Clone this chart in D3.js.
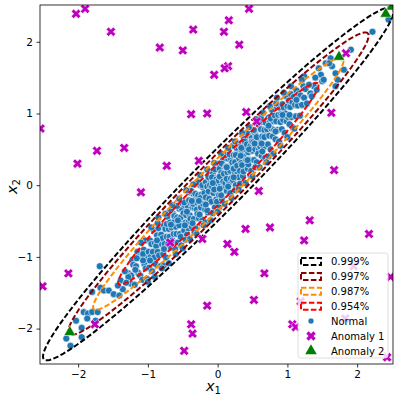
<!DOCTYPE html>
<html>
<head>
<meta charset="utf-8">
<script src="https://cdn.jsdelivr.net/npm/d3@7"></script>
<style>
  html, body { margin: 0; padding: 0; background: #fff; }
  svg { display: block; font-family: "DejaVu Sans", sans-serif; }
</style>
</head>
<body>
<svg id="chart" width="399" height="399"></svg>
<script>
// axis limits and ticks
const xLimits = [-2.547, 2.514];
const yLimits = [-2.494, 2.513];
const xTicks = [-2, -1, 0, 1, 2];
const yTicks = [-2, -1, 0, 1, 2];

// confidence ellipses (Mahalanobis radius)
const levelLabels = ["0.999%", "0.997%", "0.987%", "0.954%"];
const levelRadii = [3.5, 3, 2.5, 2];
const levelColors = ["black", "darkred", "darkorange", "red"];
const ellipseCenter = [0.01, 0.02];
const ellipseSigma = [1.0, 0.105];
const ellipseAngle = 44.4; // degrees

// normal samples
const normal = [
  [-1.28,-1.23],[-1.25,-1.37],[-1.22,-1.04],[-1.24,-1.26],[-1.21,-1.11],
  [-1.19,-1.39],[-1.17,-1.13],[-1.15,-0.93],[-1.14,-1.22],[-1.12,-1.00],[-1.11,-1.26],[-1.18,-1.18],
  [-1.09,-1.01],[-1.08,-1.32],[-1.06,-0.90],[-1.05,-1.10],[-1.04,-0.77],[-1.03,-1.16],[-1.02,-1.00],[-1.01,-1.31],[-1.07,-0.96],
  [-0.99,-0.93],[-0.98,-1.15],[-0.97,-0.77],[-0.96,-1.00],[-0.95,-0.82],[-0.94,-1.20],[-0.93,-0.93],[-0.92,-0.62],[-0.91,-1.01],[-0.90,-0.81],
  [-0.89,-1.10],[-0.88,-0.85],[-0.87,-0.70],[-0.86,-0.93],[-0.85,-0.60],[-0.84,-0.98],[-0.83,-0.75],[-0.82,-1.13],[-0.81,-0.69],[-0.80,-0.82],[-0.86,-0.53],
  [-0.79,-0.74],[-0.78,-0.96],[-0.77,-0.56],[-0.76,-0.82],[-0.75,-0.61],[-0.74,-1.01],[-0.73,-0.72],[-0.72,-0.44],[-0.71,-0.82],[-0.70,-0.61],[-0.77,-1.12],[-0.73,-0.54],
  [-0.69,-0.72],[-0.68,-0.52],[-0.67,-0.87],[-0.66,-0.59],[-0.65,-0.77],[-0.64,-0.40],[-0.63,-0.68],[-0.62,-0.51],[-0.61,-0.89],[-0.60,-0.58],[-0.68,-0.36],[-0.64,-0.80],[-0.62,-0.43],
  [-0.59,-0.68],[-0.58,-0.45],[-0.57,-0.80],[-0.56,-0.52],[-0.55,-0.33],[-0.54,-0.68],[-0.53,-0.45],[-0.52,-0.84],[-0.51,-0.34],[-0.50,-0.54],[-0.58,-0.29],[-0.55,-0.56],[-0.53,-0.72],[-0.51,-0.25],
  [-0.49,-0.39],[-0.48,-0.63],[-0.47,-0.28],[-0.46,-0.52],[-0.45,-0.42],[-0.44,-0.69],[-0.43,-0.29],[-0.42,-0.52],[-0.41,-0.10],[-0.40,-0.42],[-0.48,-0.24],[-0.46,-0.76],[-0.44,-0.37],[-0.42,-0.60],[-0.41,-0.21],
  [-0.39,-0.47],[-0.38,-0.26],[-0.37,-0.58],[-0.36,-0.31],[-0.35,-0.12],[-0.34,-0.47],[-0.33,-0.32],[-0.32,-0.60],[-0.31,-0.15],[-0.30,-0.34],[-0.38,-0.08],[-0.36,-0.53],[-0.35,-0.26],[-0.33,-0.66],[-0.32,-0.12],[-0.30,-0.24],
  [-0.29,-0.40],[-0.28,-0.14],[-0.27,-0.46],[-0.26,-0.23],[-0.25,0.00],[-0.24,-0.31],[-0.23,-0.13],[-0.22,-0.48],[-0.21,-0.03],[-0.20,-0.21],[-0.28,0.04],[-0.26,-0.41],[-0.25,-0.18],[-0.23,-0.54],[-0.22,0.00],[-0.21,-0.26],
  [-0.19,-0.11],[-0.18,-0.34],[-0.17,0.04],[-0.16,-0.19],[-0.15,-0.02],[-0.14,-0.38],[-0.13,-0.09],[-0.12,0.17],[-0.11,-0.23],[-0.10,0.07],[-0.18,-0.52],[-0.17,-0.17],[-0.15,-0.35],[-0.13,0.11],[-0.12,-0.19],[-0.11,0.00],
  [-0.09,-0.23],[-0.08,-0.02],[-0.07,0.16],[-0.06,-0.11],[-0.05,0.10],[-0.04,-0.31],[-0.03,-0.01],[-0.02,-0.20],[-0.01,0.30],[0.00,-0.09],[-0.08,0.11],[-0.07,-0.39],[-0.05,-0.06],[-0.04,0.22],[-0.02,0.08],[-0.01,-0.23],
  [0.01,0.06],[0.02,-0.14],[0.03,0.23],[0.04,-0.02],[0.05,0.17],[0.06,-0.19],[0.07,0.08],[0.08,0.36],[0.09,-0.02],[0.10,0.26],[0.02,-0.31],[0.03,0.12],[0.05,-0.14],[0.06,0.30],[0.08,0.05],[0.09,0.16],
  [0.11,0.03],[0.12,0.26],[0.13,-0.08],[0.14,0.18],[0.15,0.37],[0.16,0.03],[0.17,0.26],[0.18,-0.11],[0.19,0.37],[0.20,0.18],[0.12,0.42],[0.13,0.09],[0.15,-0.02],[0.17,0.43],[0.18,0.20],[0.19,0.09],
  [0.21,0.32],[0.22,0.07],[0.23,0.42],[0.24,0.19],[0.25,0.32],[0.26,0.00],[0.27,0.52],[0.28,0.19],[0.29,0.43],[0.30,0.11],[0.22,0.55],[0.23,0.23],[0.25,-0.07],[0.26,0.42],[0.28,0.27],[0.29,0.58],
  [0.31,0.37],[0.32,0.20],[0.33,0.54],[0.34,0.31],[0.35,0.48],[0.36,0.13],[0.37,0.40],[0.38,0.65],[0.39,0.25],[0.40,0.50],[0.32,0.02],[0.34,0.52],[0.35,0.28],[0.37,0.19],[0.39,0.61],
  [0.41,0.35],[0.42,0.57],[0.43,0.23],[0.44,0.46],[0.45,0.69],[0.46,0.35],[0.47,0.55],[0.48,0.20],[0.49,0.66],[0.50,0.48],[0.42,0.73],[0.44,0.29],[0.45,0.50],[0.47,0.14],[0.49,0.61],
  [0.51,0.60],[0.52,0.35],[0.53,0.73],[0.54,0.50],[0.55,0.69],[0.56,0.32],[0.57,0.58],[0.58,0.86],[0.59,0.49],[0.60,0.66],[0.52,0.77],[0.54,0.25],[0.56,0.67],[0.58,0.44],
  [0.61,0.54],[0.62,0.78],[0.63,0.41],[0.64,0.68],[0.65,0.88],[0.66,0.53],[0.67,0.77],[0.68,0.38],[0.69,0.87],[0.70,0.69],[0.62,0.94],[0.64,0.47],[0.67,0.67],
  [0.71,0.78],[0.72,0.57],[0.73,0.94],[0.74,0.69],[0.75,0.88],[0.76,0.50],[0.77,0.79],[0.78,1.05],[0.79,0.68],[0.80,0.89],[0.73,0.40],[0.76,0.93],
  [0.81,0.77],[0.82,0.97],[0.83,0.64],[0.84,0.89],[0.85,1.09],[0.86,0.77],[0.87,0.98],[0.88,0.61],[0.89,1.08],[0.90,0.88],[0.84,1.14],
  [0.91,0.99],[0.92,0.78],[0.93,1.13],[0.94,0.91],[0.95,1.08],[0.96,0.73],[0.97,1.00],[0.98,1.24],[0.99,0.89],[1.00,1.10],
  [1.01,0.95],[1.02,1.18],[1.03,0.85],[1.04,1.09],[1.05,1.27],[1.06,0.95],[1.07,1.16],[1.08,0.80],[1.09,1.23],
  [1.11,1.12],[1.12,0.96],[1.13,1.32],[1.15,1.11],[1.16,1.27],[1.18,0.97],[1.19,1.25],
  [1.21,1.12],[1.23,1.38],[1.24,1.22],[1.26,1.34],[1.28,1.14],
  // wider spread around the band
  [-1.10,-0.80],[-1.00,-1.35],[-0.95,-0.59],[-0.90,-1.28],[-0.85,-0.45],[-0.80,-1.16],[-0.75,-0.40],[-0.70,-1.09],
  [-0.65,-0.28],[-0.60,-0.96],[-0.55,-0.19],[-0.50,-0.88],[-0.45,-0.07],[-0.40,-0.75],[-0.35,0.01],[-0.30,-0.68],
  [-0.25,0.14],[-0.20,-0.56],[-0.15,0.22],[-0.10,-0.49],[-0.05,0.31],[0.00,-0.37],[0.05,0.44],[0.10,-0.26],
  [0.15,0.52],[0.20,-0.18],[0.25,0.61],[0.30,-0.06],[0.35,0.73],[0.40,0.03],[0.45,0.81],[0.50,0.12],
  [0.55,0.92],[0.60,0.25],[0.65,1.01],[0.70,0.32],[0.75,1.10],[0.80,0.44],[0.85,1.22],[0.90,0.55],
  [0.95,1.29],[1.00,0.67],[1.05,1.38],[1.10,0.79],
  [-0.57,-0.49],[-0.47,-0.56],[-0.37,-0.22],[-0.27,-0.22],[-0.17,-0.27],[-0.07,0.03],[0.03,-0.05],[0.13,0.25],
  [0.23,0.11],[0.33,0.41],[0.43,0.35],[0.53,0.58],[0.63,0.58],[0.73,0.83],[0.83,0.75],[-0.67,-0.55],
  [-0.77,-0.89],[-0.87,-0.77],[-0.97,-1.05],[-1.07,-1.05],[0.93,0.98],[1.03,0.98],[1.13,1.19],[-1.16,-1.02],
  // tails
  [1.24,1.52],[1.21,1.47],[1.33,1.28],[1.38,1.38],[1.45,1.63],[1.48,1.54],[1.50,1.45],[1.55,1.70],[1.62,1.77],
  [1.64,1.66],[1.69,1.56],[1.72,1.47],[1.69,1.38],[1.52,1.47],[1.60,1.70],[1.81,1.61],[1.91,1.89],[2.22,2.14],
  [2.45,2.31],[1.31,1.40],[1.35,1.24],[1.40,1.50],[1.42,1.33],
  [-1.69,-1.13],[-1.80,-1.49],[-1.68,-1.43],[-1.63,-1.47],[-1.56,-1.47],[-1.49,-1.52],[-1.41,-1.54],[-1.92,-1.77],
  [-1.86,-1.79],[-1.80,-1.77],[-1.72,-1.77],[-2.03,-1.89],[-1.87,-1.86],[-1.75,-1.89],[-1.95,-1.99],[-2.17,-2.14],
  [-2.11,-2.24],[-1.39,-1.33],[-1.28,-1.28],[-1.33,-1.20],[-1.36,-1.45],[-1.43,-1.40],[-1.31,-1.36],[-1.95,-2.12]
];

// anomalies of type 1 (off the main axis)
const anomaly1 = [
  [-2.03,2.39],[-1.90,2.46],[-1.53,2.14],[-0.83,1.92],[-0.50,1.88],[-0.35,2.17],[-0.38,0.99],[-2.54,0.79],
  [-2.01,0.30],[-1.73,0.48],[-1.34,0.52],[-0.73,0.27],[-0.27,0.34],[-1.10,-0.10],
  [0.45,2.46],[0.16,2.30],[0.09,2.14],[0.31,1.96],[0.15,1.66],[0.10,1.63],[-0.05,1.54],[-0.15,1.00],
  [0.41,1.02],[0.56,0.89],[1.63,1.01],[1.67,0.21],[0.59,-0.08],
  [1.32,-0.49],[2.17,-0.68],[0.40,-0.61],[0.75,-0.59],[1.24,-0.77],[0.14,-0.82],[0.24,-0.93],[0.67,-1.23],
  [-0.15,-1.68],[0.52,-1.60],[-0.22,-0.75],[1.07,-1.94],[1.12,-1.98],[2.48,-1.28],[1.95,-1.13],[1.19,-1.62],
  [1.83,-1.86],[2.43,-2.40],
  [-1.76,-1.94],[-0.38,-1.94],[-0.36,-2.07],[-0.48,-2.31],[-2.14,-1.23],[-2.51,-1.41],[-0.68,-0.80],[1.84,1.84]
];

// anomalies of type 2 (far out along the main axis)
const anomaly2 = [[2.50,2.49],[2.41,2.39],[1.74,1.79],[-2.12,-2.05]];

const seriesLabels = ["Normal", "Anomaly 1", "Anomaly 2"];
const colNormal = "#1f77b4", colA1 = "#bf00bf", colA2 = "#008000";

const margin = {left: 40, top: 5, right: 6, bottom: 35};
const W = 399, H = 399;
const svg = d3.select("#chart");

const x = d3.scaleLinear().domain(xLimits).range([margin.left, W - margin.right]);
const y = d3.scaleLinear().domain(yLimits).range([H - margin.bottom, margin.top]);

svg.append("defs").append("clipPath").attr("id", "plot")
  .append("rect")
  .attr("x", x.range()[0]).attr("y", y.range()[1])
  .attr("width", x.range()[1] - x.range()[0])
  .attr("height", y.range()[0] - y.range()[1]);

const plot = svg.append("g").attr("clip-path", "url(#plot)");

const crossPath = d3.symbol(d3.symbolCross, 56)();
const triPath = d3.symbol(d3.symbolTriangle, 58)();

// normal points
plot.append("g").selectAll("circle")
  .data(normal)
  .join("circle")
  .attr("cx", d => x(d[0]))
  .attr("cy", d => y(d[1]))
  .attr("r", 3.5)
  .attr("fill", colNormal)
  .attr("stroke", "#fff")
  .attr("stroke-width", 0.6);

// ellipses
const a = ellipseAngle * Math.PI / 180;
const thetas = d3.range(0, 361, 2).map(t => t * Math.PI / 180);
const ellipseLine = d3.line().x(p => x(p[0])).y(p => y(p[1]));
function ellipsePoints(k) {
  return thetas.map(t => {
    const u = k * ellipseSigma[0] * Math.cos(t), v = k * ellipseSigma[1] * Math.sin(t);
    return [ellipseCenter[0] + u * Math.cos(a) - v * Math.sin(a),
            ellipseCenter[1] + u * Math.sin(a) + v * Math.cos(a)];
  });
}
plot.append("g").selectAll("path")
  .data(levelRadii)
  .join("path")
  .attr("d", k => ellipseLine(ellipsePoints(k)))
  .attr("fill", "none")
  .attr("stroke", (k, i) => levelColors[i])
  .attr("stroke-width", 2)
  .attr("stroke-dasharray", "5.5,2.4");

// anomalies
plot.append("g").selectAll("path")
  .data(anomaly1)
  .join("path")
  .attr("d", crossPath)
  .attr("transform", d => `translate(${x(d[0])},${y(d[1])}) rotate(45)`)
  .attr("fill", colA1)
  .attr("stroke", "#fff")
  .attr("stroke-width", 0.5);

plot.append("g").selectAll("path")
  .data(anomaly2)
  .join("path")
  .attr("d", triPath)
  .attr("transform", d => `translate(${x(d[0])},${y(d[1])})`)
  .attr("fill", colA2)
  .attr("stroke", "#fff")
  .attr("stroke-width", 0.5);

// axes
const xAxis = svg.append("g")
  .attr("transform", `translate(0,${y.range()[0]})`)
  .call(d3.axisBottom(x).tickValues(xTicks).tickSize(3.5).tickPadding(3.5).tickFormat(d3.format("d")));
const yAxis = svg.append("g")
  .attr("transform", `translate(${x.range()[0]},0)`)
  .call(d3.axisLeft(y).tickValues(yTicks).tickSize(3.5).tickPadding(3.5).tickFormat(d3.format("d")));
[xAxis, yAxis].forEach(g => {
  g.select(".domain").remove();
  g.selectAll(".tick line").attr("stroke", "#000").attr("stroke-width", 0.8);
  g.selectAll(".tick text").attr("font-size", 10.5).attr("fill", "#000")
    .attr("font-family", "DejaVu Sans");
});

// frame
svg.append("rect")
  .attr("x", x.range()[0]).attr("y", y.range()[1])
  .attr("width", x.range()[1] - x.range()[0])
  .attr("height", y.range()[0] - y.range()[1])
  .attr("fill", "none").attr("stroke", "#000").attr("stroke-width", 0.8);

// axis labels
const xl = svg.append("text")
  .attr("x", (x.range()[0] + x.range()[1]) / 2 - 3).attr("y", 391)
  .attr("text-anchor", "middle").attr("font-size", 14.5);
xl.append("tspan").attr("font-style", "italic").text("x");
xl.append("tspan").attr("font-size", 10).attr("dy", 3).text("1");

const yl = svg.append("text")
  .attr("transform", `translate(17,${(y.range()[0] + y.range()[1]) / 2 + 2}) rotate(-90)`)
  .attr("text-anchor", "middle").attr("font-size", 14.5);
yl.append("tspan").attr("font-style", "italic").text("x");
yl.append("tspan").attr("font-size", 10).attr("dy", 3).text("2");

// legend
const lg = svg.append("g").attr("transform", "translate(298,253)");
lg.append("rect")
  .attr("width", 90).attr("height", 105).attr("rx", 2.5)
  .attr("fill", "#fff").attr("fill-opacity", 0.8)
  .attr("stroke", "#d6d6d6").attr("stroke-width", 0.8);

const rowY = i => 8.5 + i * 14.9;
levelLabels.forEach((lab, i) => {
  lg.append("rect")
    .attr("x", 3).attr("y", rowY(i) - 3.5).attr("width", 20).attr("height", 7)
    .attr("fill", "none").attr("stroke", levelColors[i])
    .attr("stroke-width", 2).attr("stroke-dasharray", "5.5,2.4");
  lg.append("text").attr("x", 33).attr("y", rowY(i) + 3.6)
    .attr("font-size", 10).text(lab);
});
const legendMarks = [
  g => g.append("circle").attr("r", 3).attr("fill", colNormal).attr("stroke", "#fff").attr("stroke-width", 0.6),
  g => g.append("path").attr("d", crossPath).attr("transform", "rotate(45)").attr("fill", colA1),
  g => g.append("path").attr("d", triPath).attr("fill", colA2)
];
seriesLabels.forEach((lab, j) => {
  const i = j + 4;
  const m = lg.append("g").attr("transform", `translate(13,${rowY(i)})`);
  legendMarks[j](m);
  lg.append("text").attr("x", 33).attr("y", rowY(i) + 3.6)
    .attr("font-size", 10).text(lab);
});
</script>
</body>
</html>
